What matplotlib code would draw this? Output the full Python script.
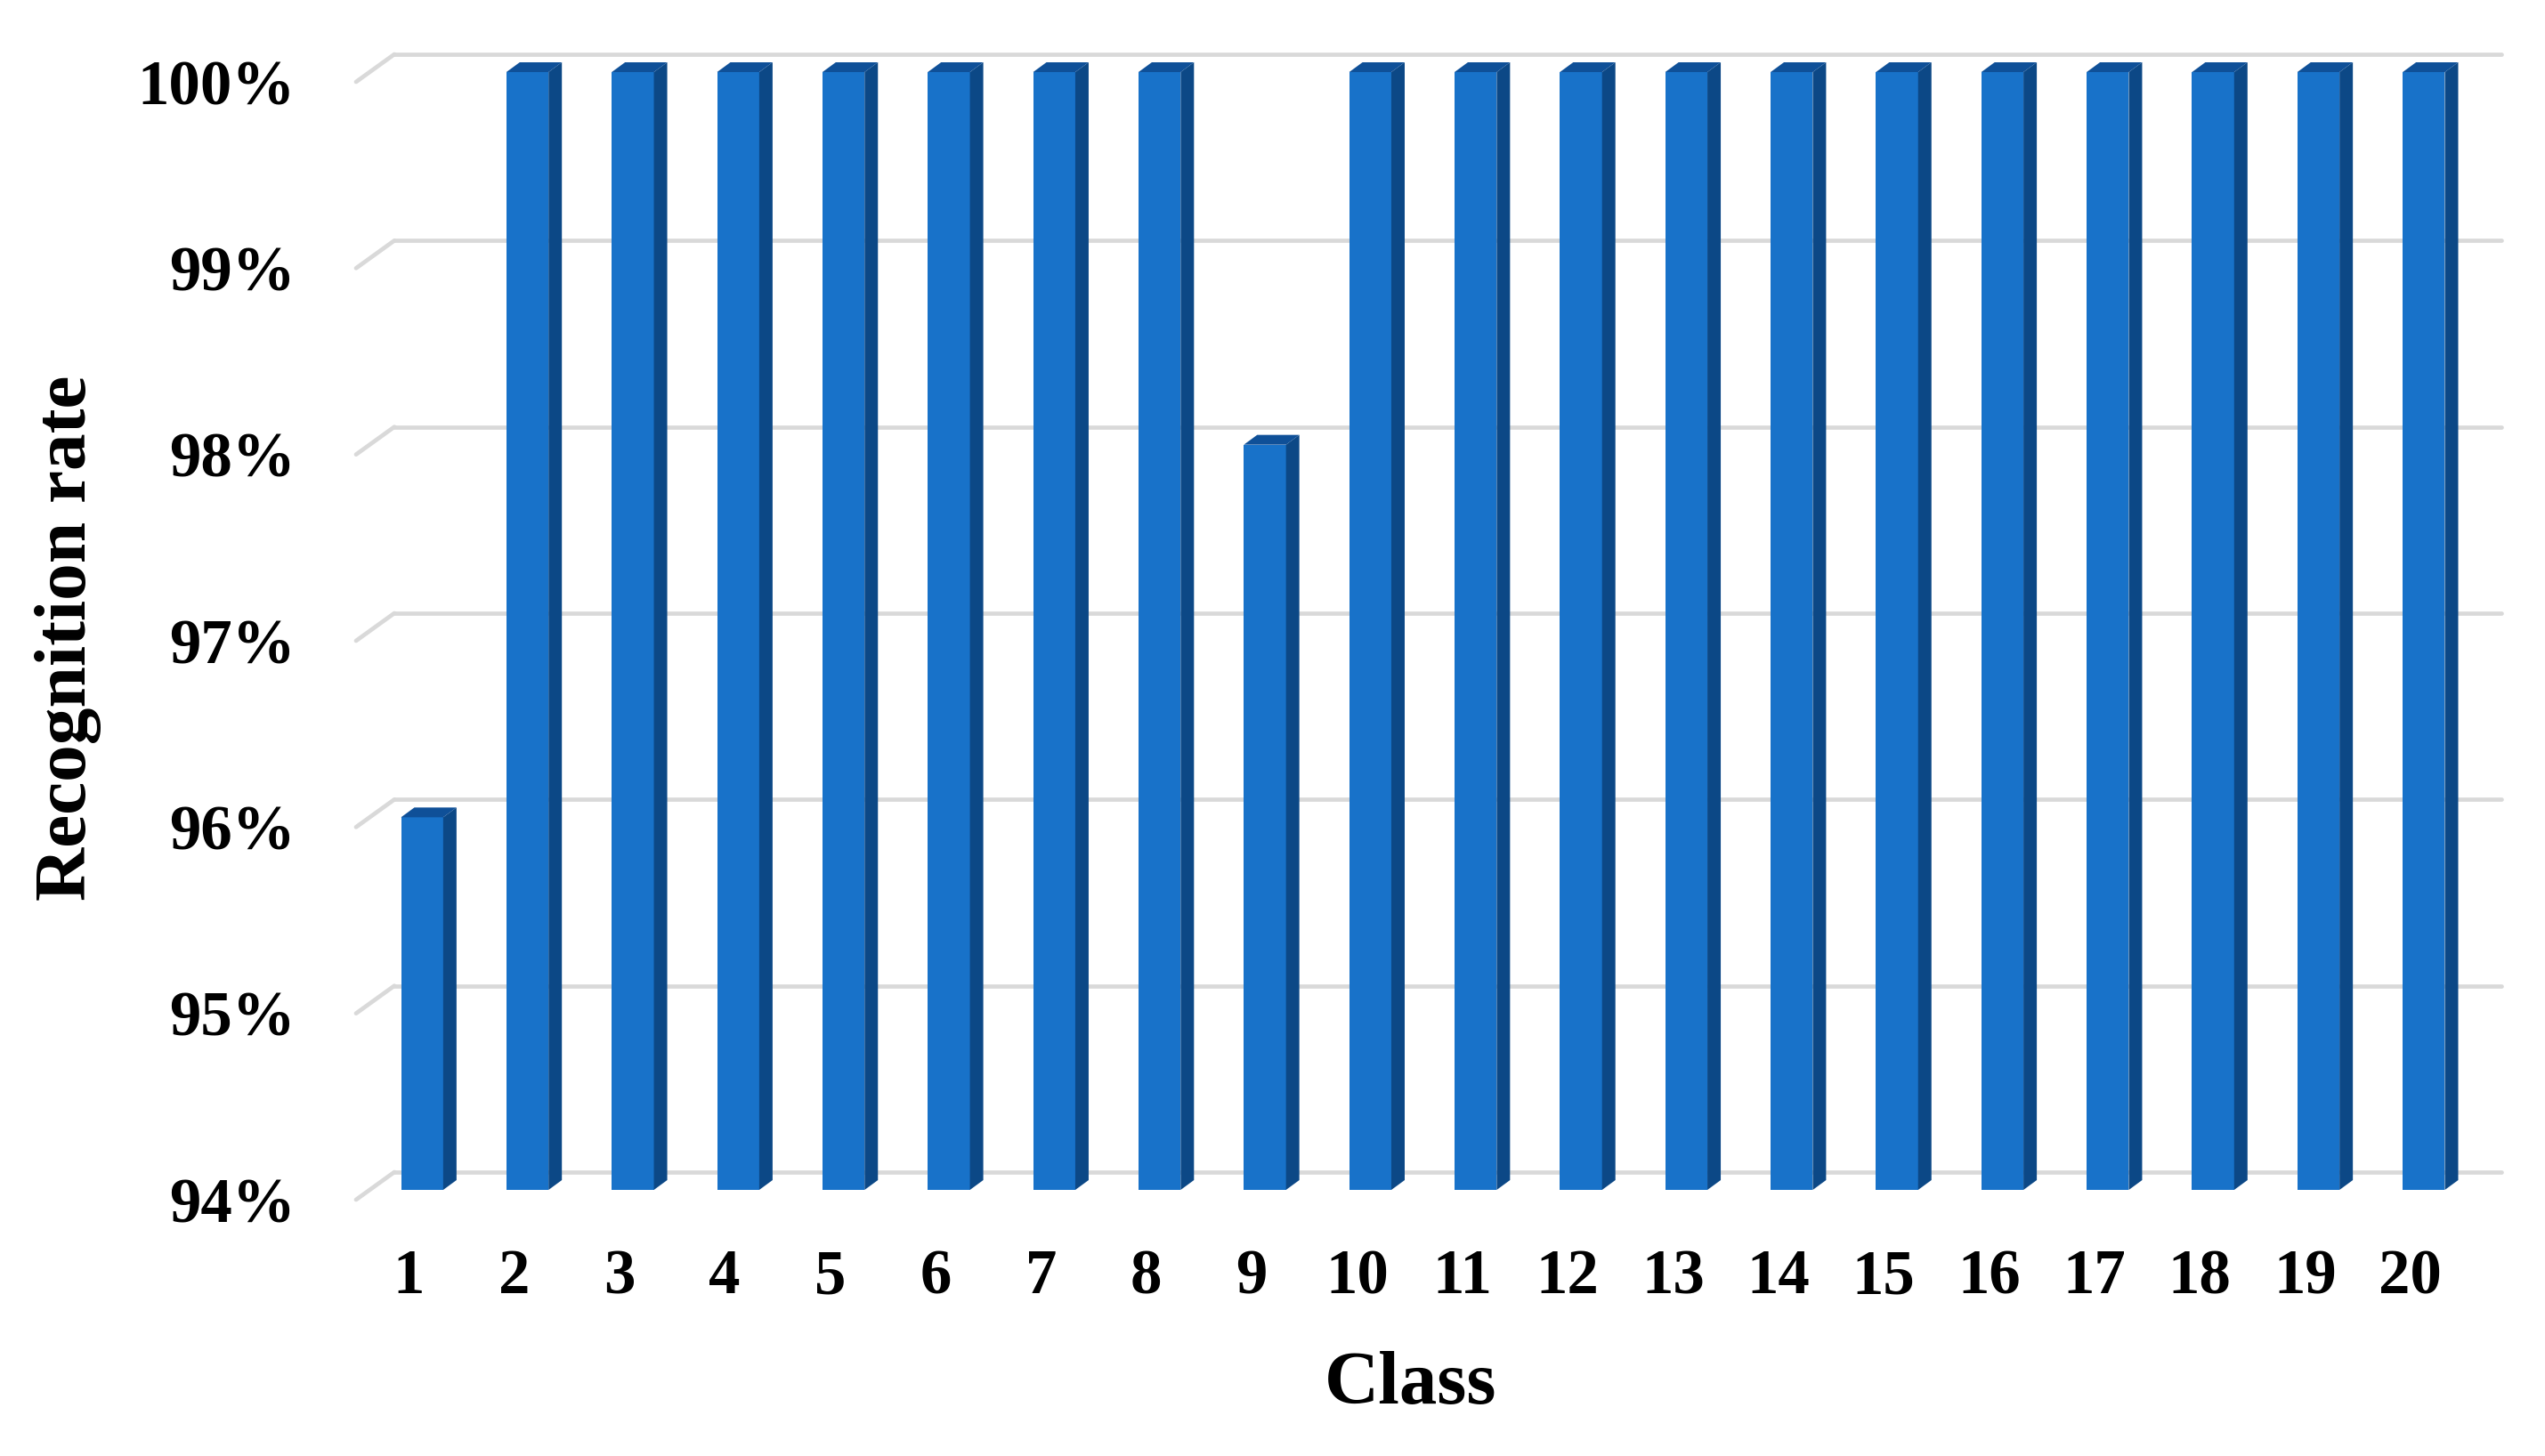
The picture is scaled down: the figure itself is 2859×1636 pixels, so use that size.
import numpy as np
import matplotlib
matplotlib.use("Agg")
import matplotlib.pyplot as plt
from matplotlib.patches import Polygon
from matplotlib.transforms import ScaledTranslation

classes = list(range(1, 21))
rates = [96, 100, 100, 100, 100, 100, 100, 100, 98, 100,
         100, 100, 100, 100, 100, 100, 100, 100, 100, 100]
yticks = [94, 95, 96, 97, 98, 99, 100]
ytick_labels = ["94%", "95%", "96%", "97%", "98%", "99%", "100%"]

plt.rcParams["font.family"] = ["Liberation Serif", "DejaVu Serif"]
plt.rcParams["font.weight"] = "bold"

W, H, DPI = 2859, 1636, 100
fig = plt.figure(figsize=(W / DPI, H / DPI), dpi=DPI)
ax = fig.add_axes([443 / W, 319 / H, 2367 / W, 1256 / H])
ax.set_xlim(0.5, 20.5)
ax.set_ylim(94, 100)
for s in ax.spines.values():
    s.set_visible(False)

# pixels per data unit
ux = 2367 / 20
uy = 1256 / 6

# floor depth (back plane -> front edge), in pixels
floor_dx, floor_dy = -43, -31
grid_col = "#d9d9d9"
for v in yticks:
    ax.plot([0.5, 20.5], [v, v], color=grid_col, lw=3.4, zorder=1,
            solid_capstyle="round", clip_on=False)
    ax.plot([0.5 + floor_dx / ux, 0.5], [v + floor_dy / uy, v], color=grid_col,
            lw=3.4, zorder=1, solid_capstyle="round", clip_on=False)

# bars: front face shifted toward the viewer
front_off = ScaledTranslation(-28 / DPI, -20 / DPI, fig.dpi_scale_trans)
tr_front = ax.transData + front_off
w = 0.4
ddx, ddy = 15 / ux, 11 / uy
front_col = "#1872c9"
side_col = "#0c4886"
top_col = "#0f5098"
base = 94
ax.bar(classes, [r - base for r in rates], bottom=base, width=w, color=front_col,
       transform=tr_front, zorder=3, clip_on=False)
for x, v in zip(classes, rates):
    r = x + w / 2
    l = x - w / 2
    side = Polygon([(r, base), (r + ddx, base + ddy), (r + ddx, v + ddy), (r, v)],
                   closed=True, facecolor=side_col, edgecolor="none",
                   transform=tr_front, zorder=3, clip_on=False)
    top = Polygon([(l, v), (l + ddx, v + ddy), (r + ddx, v + ddy), (r, v)],
                  closed=True, facecolor=top_col, edgecolor="none",
                  transform=tr_front, zorder=3, clip_on=False)
    ax.add_patch(side)
    ax.add_patch(top)

# tick labels at the front edge of the floor
ax.set_yticks(yticks)
ax.set_yticklabels(ytick_labels, fontsize=51, fontweight="bold")
ax.set_xticks(classes)
ax.set_xticklabels([str(c) for c in classes], fontsize=51, fontweight="bold")
ax.tick_params(axis="both", length=0)
ax.tick_params(axis="y", pad=80)
ax.tick_params(axis="x", pad=62)
for lab in ax.get_yticklabels():
    lab.set_transform(lab.get_transform() + ScaledTranslation(0, -31 / DPI, fig.dpi_scale_trans))
for lab in ax.get_xticklabels():
    lab.set_transform(lab.get_transform() + ScaledTranslation(-43 / DPI, 0, fig.dpi_scale_trans))

fig.text(1585 / W, 1 - 1556 / H, "Class", fontsize=61, fontweight="bold",
         ha="center", va="center")
fig.text(77 / W, 1 - 717 / H, "Recognition rate", fontsize=60, fontweight="bold",
         ha="center", va="center", rotation=90)

fig.savefig("out.png", dpi=DPI, facecolor="white")
